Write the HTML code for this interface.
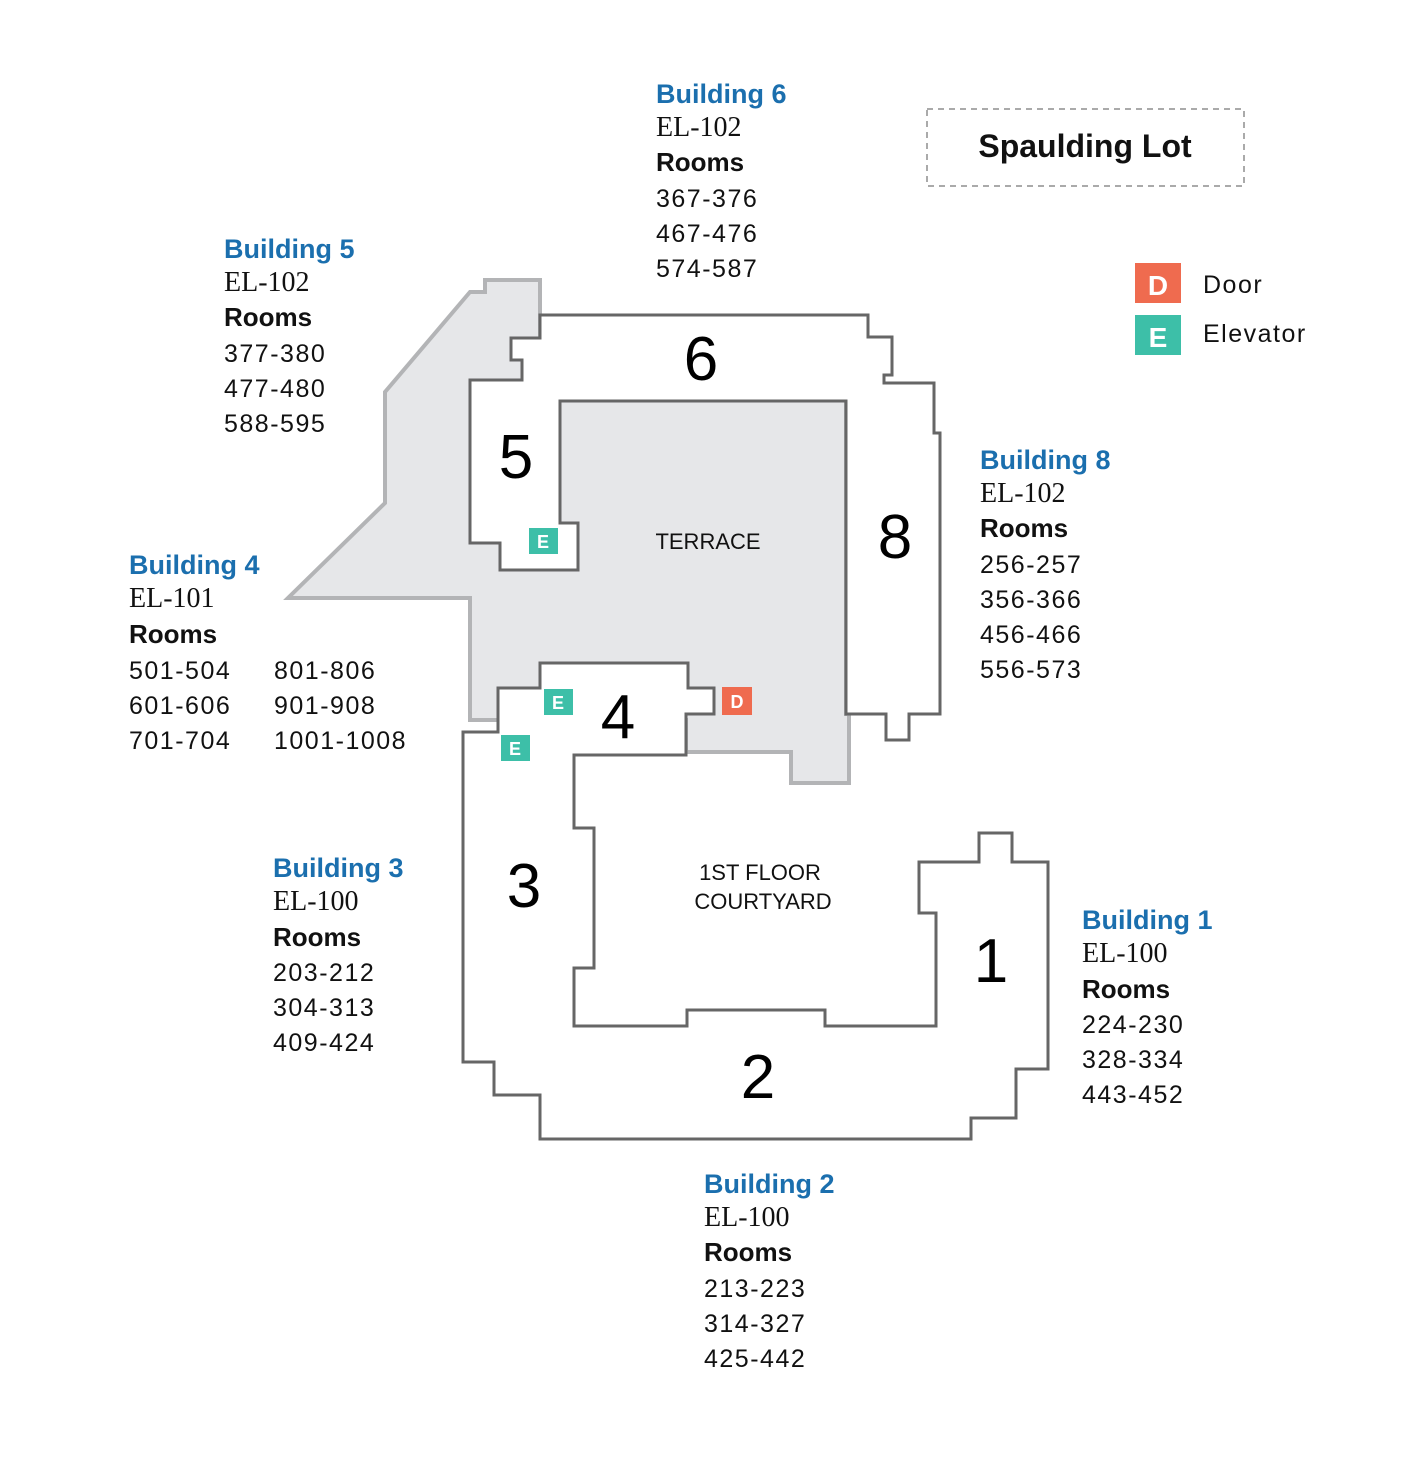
<!DOCTYPE html>
<html><head><meta charset="utf-8"><style>
html,body{margin:0;padding:0;background:#fff;}
svg{display:block;}
.h{font-family:"Liberation Sans",sans-serif;font-weight:bold;font-size:27px;fill:#1b6fae;}
.el{font-family:"Liberation Serif",serif;font-size:28px;fill:#111;}
.r{font-family:"Liberation Sans",sans-serif;font-weight:bold;font-size:26px;fill:#111;}
.n{font-family:"Liberation Sans",sans-serif;font-size:25px;fill:#111;letter-spacing:1.5px;}
.big{font-family:"Liberation Sans",sans-serif;font-size:62px;fill:#000;text-anchor:middle;}
.lab{font-family:"Liberation Sans",sans-serif;font-size:22px;fill:#111;text-anchor:middle;}
.m{font-family:"Liberation Sans",sans-serif;font-weight:bold;font-size:18px;fill:#fff;text-anchor:middle;}
</style></head><body>
<svg width="1428" height="1471" viewBox="0 0 1428 1471" xmlns="http://www.w3.org/2000/svg">
<polygon points="470,292 485,292 485,280 540,280 540,400 846,400 846,714 849,714 849,783 791,783 791,752 686,752 686,720 470,720 470,598 288,598 385,503 385,392" fill="#e6e7e9" stroke="#b3b4b6" stroke-width="4"/>
<polygon points="540,315 868,315 868,337 892,337 892,375 884,375 884,383 934,383 934,433 940,433 940,714 909,714 909,740 886,740 886,714 846,714 846,401 560,401 560,523 578,523 578,570 500,570 500,543 470,543 470,380 522,380 522,360 511,360 511,338 540,338" fill="#fff" stroke="#666" stroke-width="3"/>
<polygon points="540,663 688,663 688,688 714,688 714,714 686,714 686,755 574,755 574,828 594,828 594,968 574,968 574,1026 687,1026 687,1010 825,1010 825,1026 936,1026 936,913 919,913 919,862 979,862 979,833 1012,833 1012,862 1048,862 1048,1069 1016,1069 1016,1118 971,1118 971,1139 540,1139 540,1095 494,1095 494,1062 463,1062 463,732 498,732 498,688 540,688" fill="#fff" stroke="#666" stroke-width="3"/>

<text class="big" x="701" y="380">6</text>
<text class="big" x="516" y="478">5</text>
<text class="big" x="895" y="558">8</text>
<text class="big" x="618" y="738">4</text>
<text class="big" x="524" y="907">3</text>
<text class="big" x="991" y="982">1</text>
<text class="big" x="758" y="1098">2</text>
<text class="lab" x="708" y="549">TERRACE</text>
<text class="lab" x="760" y="880">1ST FLOOR</text>
<text class="lab" x="763" y="909">COURTYARD</text>

<rect x="529" y="528" width="29" height="26" fill="#3dbfa8"/><text class="m" x="543" y="548">E</text>
<rect x="544" y="689" width="29" height="26" fill="#3dbfa8"/><text class="m" x="558" y="709">E</text>
<rect x="501" y="735" width="29" height="26" fill="#3dbfa8"/><text class="m" x="515" y="755">E</text>
<rect x="722" y="687" width="30" height="28" fill="#ef6b4f"/><text class="m" x="737" y="708">D</text>

<rect x="927" y="109" width="317" height="77" fill="none" stroke="#aaa" stroke-width="2" stroke-dasharray="6,5"/>
<text x="1085" y="157" style="font-family:'Liberation Sans',sans-serif;font-weight:bold;font-size:32px;fill:#111;text-anchor:middle">Spaulding Lot</text>
<rect x="1135" y="263" width="46" height="40" fill="#ef6b4f"/>
<text x="1158" y="295" style="font-family:'Liberation Sans',sans-serif;font-weight:bold;font-size:28px;fill:#fff;text-anchor:middle">D</text>
<rect x="1135" y="315" width="46" height="40" fill="#3dbfa8"/>
<text x="1158" y="347" style="font-family:'Liberation Sans',sans-serif;font-weight:bold;font-size:28px;fill:#fff;text-anchor:middle">E</text>
<text class="n" x="1203" y="293">Door</text>
<text class="n" x="1203" y="342">Elevator</text>

<text class="h" x="656" y="103">Building 6</text>
<text class="el" x="656" y="136">EL-102</text>
<text class="r" x="656" y="171">Rooms</text>
<text class="n" x="656" y="207">367-376</text>
<text class="n" x="656" y="242">467-476</text>
<text class="n" x="656" y="277">574-587</text>
<text class="h" x="224" y="258">Building 5</text>
<text class="el" x="224" y="291">EL-102</text>
<text class="r" x="224" y="326">Rooms</text>
<text class="n" x="224" y="362">377-380</text>
<text class="n" x="224" y="397">477-480</text>
<text class="n" x="224" y="432">588-595</text>
<text class="h" x="129" y="574">Building 4</text>
<text class="el" x="129" y="607">EL-101</text>
<text class="r" x="129" y="643">Rooms</text>
<text class="n" x="129" y="679">501-504</text>
<text class="n" x="129" y="714">601-606</text>
<text class="n" x="129" y="749">701-704</text>
<text class="n" x="274" y="679">801-806</text>
<text class="n" x="274" y="714">901-908</text>
<text class="n" x="274" y="749">1001-1008</text>
<text class="h" x="980" y="469">Building 8</text>
<text class="el" x="980" y="502">EL-102</text>
<text class="r" x="980" y="537">Rooms</text>
<text class="n" x="980" y="573">256-257</text>
<text class="n" x="980" y="608">356-366</text>
<text class="n" x="980" y="643">456-466</text>
<text class="n" x="980" y="678">556-573</text>
<text class="h" x="273" y="877">Building 3</text>
<text class="el" x="273" y="910">EL-100</text>
<text class="r" x="273" y="946">Rooms</text>
<text class="n" x="273" y="981">203-212</text>
<text class="n" x="273" y="1016">304-313</text>
<text class="n" x="273" y="1051">409-424</text>
<text class="h" x="1082" y="929">Building 1</text>
<text class="el" x="1082" y="962">EL-100</text>
<text class="r" x="1082" y="998">Rooms</text>
<text class="n" x="1082" y="1033">224-230</text>
<text class="n" x="1082" y="1068">328-334</text>
<text class="n" x="1082" y="1103">443-452</text>
<text class="h" x="704" y="1193">Building 2</text>
<text class="el" x="704" y="1226">EL-100</text>
<text class="r" x="704" y="1261">Rooms</text>
<text class="n" x="704" y="1297">213-223</text>
<text class="n" x="704" y="1332">314-327</text>
<text class="n" x="704" y="1367">425-442</text>
</svg>
</body></html>
